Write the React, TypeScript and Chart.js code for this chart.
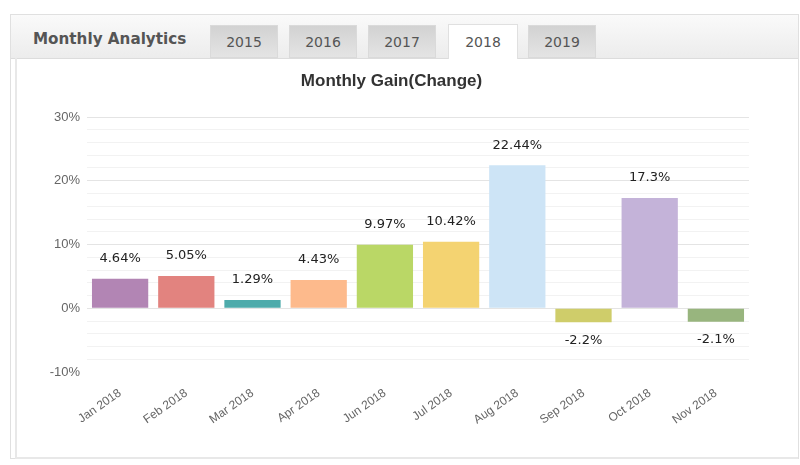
import React, { useEffect, useRef } from "react";
import { Chart, registerables } from "chart.js";

Chart.register(...registerables);

const categories = ["Jan 2018", "Feb 2018", "Mar 2018", "Apr 2018", "Jun 2018", "Jul 2018", "Aug 2018", "Sep 2018", "Oct 2018", "Nov 2018"];
const gains = [4.64, 5.05, 1.29, 4.43, 9.97, 10.42, 22.44, -2.2, 17.3, -2.1];
const barColors = ["#b285b4", "#e2837f", "#4eabab", "#fdba8c", "#bad766", "#f4d371", "#cde4f6", "#cfcd6a", "#c4b3d9", "#98b57e"];
const years = ["2015", "2016", "2017", "2018", "2019"];
const activeYear = "2018";
const chartTitle = "Monthly Gain(Change)";
const panelTitle = "Monthly Analytics";

const valueLabels = {
  id: "valueLabels",
  afterDatasetsDraw(chart: any) {
    const ctx = chart.ctx;
    const meta = chart.getDatasetMeta(0);
    ctx.save();
    ctx.font = "13px 'DejaVu Sans'";
    ctx.fillStyle = "#222";
    ctx.textAlign = "center";
    ctx.textBaseline = "middle";
    meta.data.forEach((el: any, i: number) => {
      const v = gains[i];
      const txt = String(v) + "%";
      if (v >= 0) ctx.fillText(txt, el.x, el.y - 20);
      else ctx.fillText(txt, el.x, el.y + 18);
    });
    ctx.restore();
  },
};

export default function App() {
  const ref = useRef<HTMLCanvasElement>(null);
  useEffect(() => {
    if (!ref.current) return;
    const chart = new Chart(ref.current, {
      type: "bar",
      data: {
        labels: categories,
        datasets: [
          {
            data: gains,
            backgroundColor: barColors,
            borderWidth: 0,
            categoryPercentage: 0.85,
            barPercentage: 1,
          },
        ],
      },
      options: {
        responsive: false,
        animation: false,
        layout: { padding: { left: 18, right: 48, top: 0, bottom: 0 } },
        plugins: {
          legend: { display: false },
          tooltip: { enabled: false },
          title: {
            display: true,
            text: chartTitle,
            color: "#333",
            font: { family: "'Liberation Sans', Arial", size: 17, weight: "bold" },
            padding: { top: 12, bottom: 25.6 },
          },
        },
        scales: {
          x: {
            grid: { display: false },
            border: { display: false },
            ticks: {
              minRotation: 35,
              maxRotation: 35,
              color: "#666",
              font: { family: "'Liberation Sans', Arial", size: 12 },
              padding: 6,
            },
            afterFit(scale: any) {
              scale.height = 85;
            },
          },
          y: {
            min: -10,
            max: 30,
            border: { display: false },
            grid: {
              drawTicks: false,
              color: (c: any) => {
                const v = c.tick ? c.tick.value : 0;
                if (v === -10) return "rgba(0,0,0,0)";
                return v % 10 === 0 ? "#e4e4e4" : "#f2f2f2";
              },
            },
            ticks: {
              stepSize: 2,
              autoSkip: false,
              padding: 7,
              color: "#666",
              font: { family: "'Liberation Sans', Arial", size: 13 },
              callback: (v: any) => (Number(v) % 10 === 0 ? v + "%" : ""),
            },
            afterFit(scale: any) {
              scale.width = 53;
            },
          },
        },
      },
      plugins: [valueLabels],
    } as any);
    return () => chart.destroy();
  }, []);

  const tabLefts = [210, 289, 368, 448, 528];
  return (
    <div style={{ position: "absolute", left: 0, top: 0, width: 800, height: 465, background: "#fff", overflow: "hidden", fontFamily: "'DejaVu Sans', Verdana" }}>
      <div style={{ position: "absolute", left: 10, top: 14, width: 789, height: 445, border: "1px solid #e0e0e0", boxSizing: "border-box", background: "#fff" }} />
      <div style={{ position: "absolute", left: 11, top: 15, width: 787, height: 44, background: "linear-gradient(#fafafa, #ececec)", borderBottom: "1px solid #dcdcdc", boxSizing: "border-box" }} />
      <div style={{ position: "absolute", left: 15, top: 58, width: 783, height: 401, borderLeft: "2px solid #e8e8e8", borderBottom: "2px solid #e8e8e8", boxSizing: "border-box" }} />
      <div style={{ position: "absolute", left: 33, top: 30, fontSize: 15.2, fontWeight: "bold", color: "#555", fontFamily: "'DejaVu Sans', Verdana" }}>{panelTitle}</div>
      {years.map((y, i) => {
        const active = y === activeYear;
        return (
          <div
            key={y}
            style={{
              position: "absolute",
              left: tabLefts[i],
              top: active ? 24 : 25,
              width: active ? 70 : 68,
              height: active ? 35 : 33,
              boxSizing: "border-box",
              background: active ? "#fff" : "linear-gradient(#d2d2d2, #e4e4e4)",
              border: active ? "1px solid #e0e0e0" : "1px solid #dadada",
              borderBottom: active ? "none" : "1px solid #dadada",
              textAlign: "center",
              lineHeight: active ? "34px" : "32px",
              fontSize: 14,
              color: "#555",
              fontFamily: "'DejaVu Sans', Verdana",
            }}
          >
            {y}
          </div>
        );
      })}
      <div style={{ position: "absolute", left: 16, top: 59, width: 781, height: 398 }}>
        <canvas ref={ref} width={781} height={398} style={{ display: "block" }} />
      </div>
    </div>
  );
}
